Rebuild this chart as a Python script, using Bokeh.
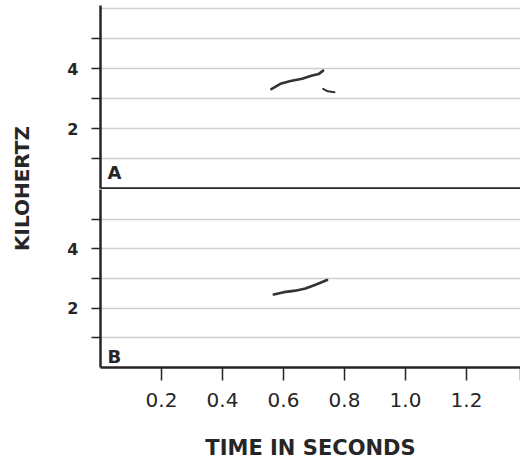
from bokeh.plotting import figure
from bokeh.layouts import row, column
from bokeh.models import Range1d, FixedTicker, Label, NumeralTickFormatter
from bokeh.embed import file_html
from bokeh.resources import INLINE

# ---------------- data ----------------
x_ticks = [0.2, 0.4, 0.6, 0.8, 1.0, 1.2]
x_end = 1.377
y_major_ticks = [2, 4]
y_minor_ticks = [1, 3, 5]
grid_a = [1, 2, 3, 4, 5, 6]
grid_b = [1, 2, 3, 4, 5]
y_top_a = 6.1
y_top_b = 6.0

# panel A: main rising contour and short tail (time s, kHz)
a_main_t = [0.560, 0.590, 0.623, 0.661, 0.694, 0.716, 0.730]
a_main_f = [3.31, 3.49, 3.58, 3.66, 3.77, 3.82, 3.93]
a_tail_t = [0.730, 0.745, 0.767]
a_tail_f = [3.32, 3.24, 3.21]

# panel B: contour
b_t = [0.568, 0.601, 0.639, 0.672, 0.705, 0.743]
b_f = [2.46, 2.54, 2.59, 2.66, 2.79, 2.95]

INK = "#262626"
GRID = "#cfcfcf"
FONT = "DejaVu Sans"

xr = Range1d(0, x_end)


def panel(h, ytop, grid, mt, mb):
    p = figure(width=472, height=h, x_range=xr, y_range=Range1d(0, ytop),
               output_backend="svg", toolbar_location=None,
               min_border_left=52, min_border_right=0, min_border_top=mt,
               min_border_bottom=mb)
    p.outline_line_color = None
    p.background_fill_color = "white"
    p.border_fill_color = "white"
    p.xgrid.visible = False
    p.ygrid.ticker = FixedTicker(ticks=grid)
    p.ygrid.grid_line_color = GRID
    p.ygrid.grid_line_width = 1.5
    ya = p.yaxis[0]
    ya.ticker = FixedTicker(ticks=y_major_ticks, minor_ticks=y_minor_ticks)
    ya.axis_line_color = INK
    ya.axis_line_width = 2.5
    ya.major_tick_out = 9
    ya.major_tick_in = 0
    ya.minor_tick_out = 9
    ya.minor_tick_in = 0
    ya.major_tick_line_color = INK
    ya.minor_tick_line_color = INK
    ya.major_tick_line_width = 1.5
    ya.minor_tick_line_width = 1.5
    ya.major_label_standoff = 13
    ya.major_label_text_font = FONT
    ya.major_label_text_font_style = "bold"
    ya.major_label_text_font_size = "16px"
    ya.major_label_text_color = INK
    return p


# ---- top panel A ----
pa = panel(189, y_top_a, grid_a, 5, 1)
xa = pa.xaxis[0]
xa.ticker = FixedTicker(ticks=[])
xa.axis_line_color = INK
xa.axis_line_width = 2.5
xa.major_tick_out = 0
xa.major_tick_in = 0
xa.minor_tick_out = 0
xa.minor_tick_in = 0
xa.major_label_standoff = 0
xa.major_label_text_font_size = "0px"

pa.line(a_main_t, a_main_f, line_color="#333333", line_width=2.6, line_cap="round")
pa.line(a_tail_t, a_tail_f, line_color="#333333", line_width=2.0, line_cap="round")
pa.add_layout(Label(x=0.023, y=0.53, text="A", text_font=FONT, text_font_style="bold",
                    text_font_size="18px", text_color=INK, text_baseline="alphabetic"))

# ---- bottom panel B ----
pb = panel(274, y_top_b, grid_b, 0, 96)
xb = pb.xaxis[0]
xb.ticker = FixedTicker(ticks=x_ticks, minor_ticks=[x_end])
xb.formatter = NumeralTickFormatter(format="0.0")
xb.axis_line_color = INK
xb.axis_line_width = 2.5
xb.major_tick_out = 13
xb.major_tick_in = 0
xb.minor_tick_out = 13
xb.minor_tick_in = 0
xb.major_tick_line_color = INK
xb.minor_tick_line_color = INK
xb.major_tick_line_width = 1.5
xb.minor_tick_line_width = 1.5
xb.major_label_standoff = 12
xb.major_label_text_font = FONT
xb.major_label_text_font_size = "20px"
xb.major_label_text_color = INK
xb.axis_label = "TIME IN SECONDS"
xb.axis_label_standoff = 26
xb.axis_label_text_font = FONT
xb.axis_label_text_font_style = "bold"
xb.axis_label_text_font_size = "21px"
xb.axis_label_text_color = INK

pb.line(b_t, b_f, line_color="#333333", line_width=2.6, line_cap="round")
pb.add_layout(Label(x=0.023, y=0.37, text="B", text_font=FONT, text_font_style="bold",
                    text_font_size="18px", text_color=INK, text_baseline="alphabetic"))

# ---- shared y title ----
lab = figure(width=48, height=463, x_range=Range1d(0, 48), y_range=Range1d(0, 463),
             output_backend="svg", toolbar_location=None,
             x_axis_location=None, y_axis_location=None,
             min_border_left=0, min_border_right=0, min_border_top=0, min_border_bottom=0)
lab.outline_line_color = None
lab.xgrid.visible = False
lab.ygrid.visible = False
lab.add_layout(Label(x=21.5, y=275, text="KILOHERTZ", angle=90, angle_units="deg",
                     text_align="center", text_baseline="middle", text_font=FONT,
                     text_font_style="bold", text_font_size="20px", text_color=INK))

layout = row(lab, column(pa, pb))

open("out.html", "w").write(file_html(layout, INLINE))
